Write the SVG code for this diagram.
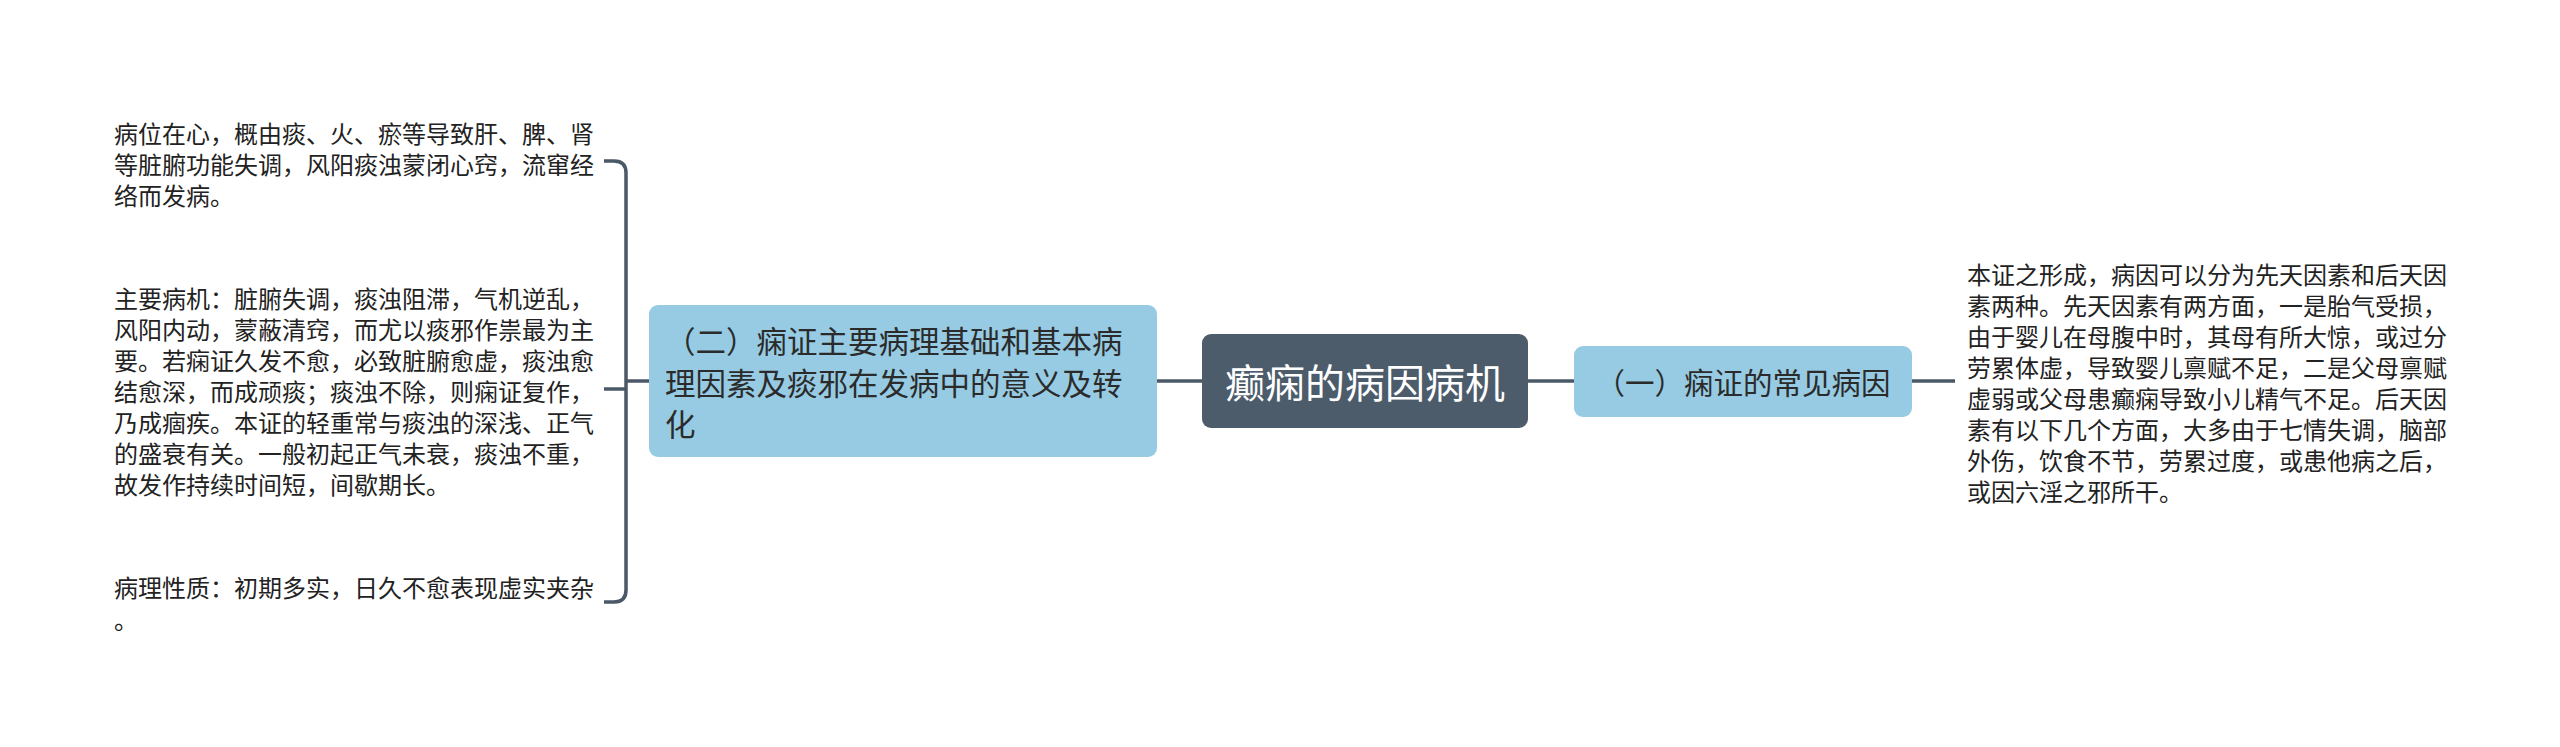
<svg xmlns="http://www.w3.org/2000/svg" width="2560" height="747" viewBox="0 0 2560 747">
<style>
.conn{fill:none;stroke:#4a5867;stroke-width:3.5;stroke-linecap:butt}
.leaf{font-family:"Noto Sans CJK SC","Noto Sans",sans-serif;font-size:24px;fill:#222}
.sub{fill:#96cbe3}
.subt{font-family:"Noto Sans CJK SC","Noto Sans",sans-serif;font-size:30.5px;fill:#2b2b2b}
.root{fill:#4c5c6b}
.roott{font-family:"Noto Sans CJK SC","Noto Sans",sans-serif;font-size:40px;fill:#ffffff}
</style>
<rect width="2560" height="747" fill="#ffffff"/>
<g id="connectors">
<path class="conn" d="M1157 381H1202"/>
<path class="conn" d="M1528 381H1574"/>
<path class="conn" d="M1912 381H1955"/>
<path class="conn" d="M649 381H626"/>
<path class="conn" d="M604 161H614Q626 161 626 173V590Q626 602 614 602H604"/>
<path class="conn" d="M604 389H626"/>
</g>
<g id="root">
<rect class="root" x="1202" y="334" width="326" height="94" rx="9"/>
<text class="roott" x="1365" y="381" text-anchor="middle" dominant-baseline="central">癫痫的病因病机</text>
</g>
<g id="node-yi">
<rect class="sub" x="1574" y="346" width="338" height="71" rx="9"/>
<text class="subt" x="1743" y="381" text-anchor="middle" dominant-baseline="central" style="font-size:29.5px">（一）痫证的常见病因</text>
</g>
<g id="node-er">
<rect class="sub" x="649" y="305" width="508" height="152" rx="9"/>
<text class="subt" dominant-baseline="central">
<tspan x="665" y="340">（二）痫证主要病理基础和基本病</tspan>
<tspan x="665" y="382">理因素及痰邪在发病中的意义及转</tspan>
<tspan x="665" y="423">化</tspan>
</text>
</g>
<g id="leaf-yi">
<text class="leaf" dominant-baseline="central">
<tspan x="1967" y="273">本证之形成，病因可以分为先天因素和后天因</tspan>
<tspan x="1967" y="304">素两种。先天因素有两方面，一是胎气受损，</tspan>
<tspan x="1967" y="335">由于婴儿在母腹中时，其母有所大惊，或过分</tspan>
<tspan x="1967" y="366">劳累体虚，导致婴儿禀赋不足，二是父母禀赋</tspan>
<tspan x="1967" y="397">虚弱或父母患癫痫导致小儿精气不足。后天因</tspan>
<tspan x="1967" y="428">素有以下几个方面，大多由于七情失调，脑部</tspan>
<tspan x="1967" y="459">外伤，饮食不节，劳累过度，或患他病之后，</tspan>
<tspan x="1967" y="490">或因六淫之邪所干。</tspan>
</text>
</g>
<g id="leaf-er-1">
<text class="leaf" dominant-baseline="central">
<tspan x="114" y="132">病位在心，概由痰、火、瘀等导致肝、脾、肾</tspan>
<tspan x="114" y="163">等脏腑功能失调，风阳痰浊蒙闭心窍，流窜经</tspan>
<tspan x="114" y="194">络而发病。</tspan>
</text>
</g>
<g id="leaf-er-2">
<text class="leaf" dominant-baseline="central">
<tspan x="114" y="297">主要病机：脏腑失调，痰浊阻滞，气机逆乱，</tspan>
<tspan x="114" y="328">风阳内动，蒙蔽清窍，而尤以痰邪作祟最为主</tspan>
<tspan x="114" y="359">要。若痫证久发不愈，必致脏腑愈虚，痰浊愈</tspan>
<tspan x="114" y="390">结愈深，而成顽痰；痰浊不除，则痫证复作，</tspan>
<tspan x="114" y="421">乃成痼疾。本证的轻重常与痰浊的深浅、正气</tspan>
<tspan x="114" y="452">的盛衰有关。一般初起正气未衰，痰浊不重，</tspan>
<tspan x="114" y="483">故发作持续时间短，间歇期长。</tspan>
</text>
</g>
<g id="leaf-er-3">
<text class="leaf" dominant-baseline="central">
<tspan x="114" y="586">病理性质：初期多实，日久不愈表现虚实夹杂</tspan>
<tspan x="114" y="618">。</tspan>
</text>
</g>
</svg>
